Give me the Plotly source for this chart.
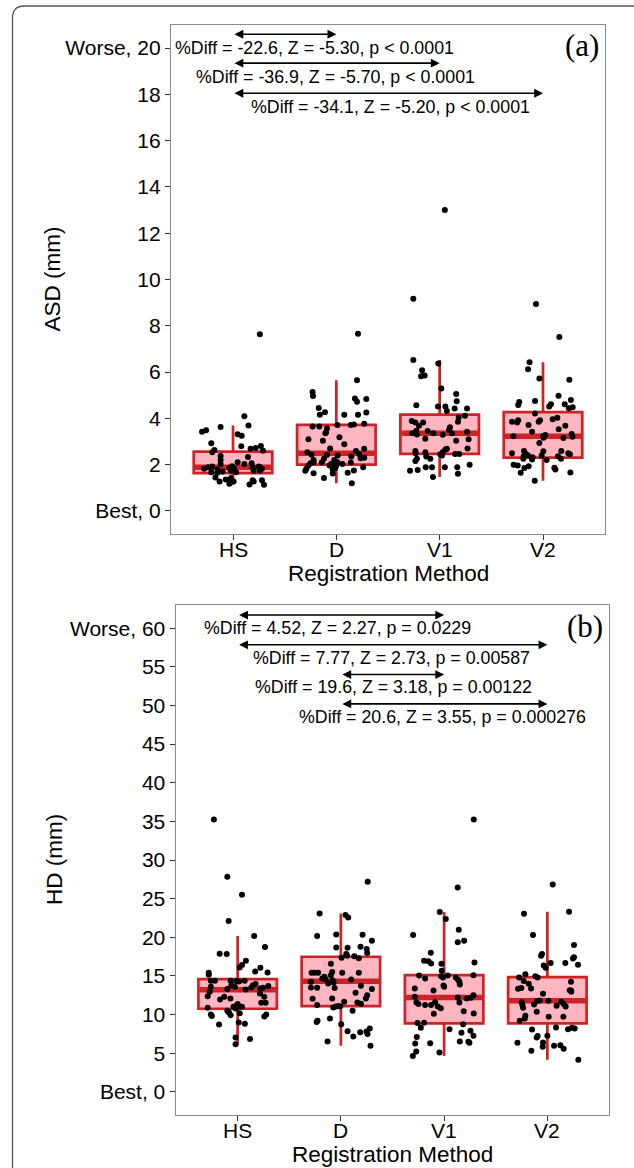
import plotly.graph_objects as go

# ---------------- data ----------------
categories = ["HS", "D", "V1", "V2"]

# Panel (a) ASD (mm)
asd_hs = [7.63, 4.09, 3.69, 3.62, 3.42, 3.48, 3.31, 3.25, 2.92, 2.79, 2.63, 2.53, 2.68, 2.72, 2.80, 2.60,
          2.37, 2.20, 2.33, 2.03, 2.10, 2.03, 2.06, 1.92, 1.82, 1.73, 1.90, 1.89, 1.73, 1.82, 1.89, 1.92,
          1.79, 1.65, 1.70, 1.85, 1.93, 1.73, 1.67, 1.85, 1.67, 1.44, 1.27, 1.36, 1.32, 1.42, 1.27, 1.17,
          1.14, 1.32, 1.27, 1.32, 1.13]
asd_hs_jit = [0.26, 0.11, 0.15, -0.12, -0.30, -0.26, 0.045, 0.084, -0.21, 0.08, -0.18, -0.20, 0.17, 0.22,
              0.27, 0.29, -0.12, -0.12, 0.145, -0.12, 0.045, 0.11, 0.18, 0.25, 0.28, 0.26, 0.26, 0.19, 0.20,
              -0.28, -0.24, -0.20, -0.15, -0.15, -0.10, -0.035, -0.01, -0.02, 0.03, 0.01, -0.21, -0.17,
              -0.13, -0.07, -0.035, -0.02, 0.006, -0.035, 0.16, 0.19, 0.20, 0.28, 0.30]
asd_d = [7.65, 5.64, 5.14, 4.96, 4.86, 4.72, 4.84, 4.45, 4.26, 4.15, 4.15, 4.15, 4.25, 3.76, 3.71, 3.73,
         3.71, 3.65, 3.65, 3.56, 3.39, 3.36, 3.10, 3.18, 3.03, 2.88, 2.70, 2.53, 2.42, 2.42, 2.39, 2.59,
         2.46, 2.27, 2.68, 2.30, 2.35, 2.20, 2.10, 2.25, 2.10, 2.20, 2.03, 1.96, 2.10, 1.96, 2.03, 2.09,
         1.96, 2.06, 1.85, 1.79, 1.73, 1.82, 1.63, 1.65, 1.75, 1.89, 1.62, 1.42, 1.19]
asd_d_jit = [0.21, 0.20, -0.23, -0.226, 0.18, 0.20, 0.29, -0.17, -0.11, -0.16, 0.077, 0.21, 0.29, 0.27,
             0.14, 0.17, 0.01, -0.23, -0.165, -0.09, -0.10, -0.106, -0.27, 0.03, -0.13, 0.077, -0.06,
             -0.28, -0.24, -0.09, 0.013, 0.19, 0.22, 0.235, 0.27, 0.27, 0.145, -0.22, -0.22, -0.12, -0.14,
             -0.02, -0.05, -0.065, 0.01, 0.0, 0.06, 0.14, -0.27, -0.25, -0.01, -0.035, -0.30, -0.29, -0.22,
             0.11, 0.17, 0.26, -0.035, -0.12, 0.15]
asd_v1 = [13.0, 9.17, 6.52, 6.37, 6.08, 5.82, 5.85, 5.29, 5.05, 4.74, 4.56, 4.51, 4.51, 4.32, 4.42, 4.42,
          4.11, 4.03, 3.85, 3.88, 3.82, 3.68, 3.46, 3.82, 3.36, 3.30, 3.45, 3.35, 3.12, 3.29, 3.61, 3.49,
          3.36, 3.42, 3.03, 3.09, 2.70, 2.59, 2.49, 2.53, 2.45, 2.53, 2.65, 2.68, 2.46, 2.46, 2.25, 2.15,
          2.35, 2.25, 2.39, 1.89, 1.99, 1.89, 1.89, 1.89, 1.60, 1.73, 1.77, 1.46]
asd_v1_jit = [0.05, -0.255, -0.255, -0.013, -0.17, -0.18, -0.145, 0.016, 0.16, 0.165, -0.226, -0.016, 0.055,
              0.07, 0.145, 0.265, 0.245, 0.184, 0.177, -0.27, -0.235, -0.20, -0.226, -0.16, -0.265, -0.22,
              -0.116, -0.06, -0.139, 0.03, 0.10, 0.09, 0.12, 0.265, 0.16, 0.28, 0.27, -0.235, -0.232,
              -0.139, 0.006, 0.03, 0.055, 0.07, 0.15, 0.19, -0.22, -0.235, -0.13, -0.09, 0.023, 0.05, 0.29,
              -0.135, -0.074, 0.17, 0.177, -0.287, -0.213, -0.065]
asd_v2 = [8.94, 7.51, 6.42, 6.12, 5.72, 5.67, 4.98, 4.79, 4.61, 4.43, 4.48, 4.75, 4.71, 4.58, 4.61, 4.51,
          4.21, 3.85, 3.92, 3.82, 3.71, 3.92, 3.85, 3.96, 4.02, 3.68, 3.53, 3.42, 3.22, 3.22, 3.28, 3.16,
          3.15, 3.32, 3.20, 2.93, 2.49, 2.59, 2.46, 2.36, 2.39, 2.25, 2.22, 2.32, 2.58, 2.39, 2.20, 2.59,
          2.36, 2.25, 2.49, 2.45, 1.99, 1.96, 1.65, 1.85, 1.93, 1.86, 1.79, 1.66, 1.30]
asd_v2_jit = [-0.068, 0.158, -0.13, -0.145, -0.035, 0.255, 0.15, 0.27, 0.21, 0.25, 0.287, -0.077, -0.23,
              -0.24, 0.077, 0.06, -0.077, -0.30, -0.24, -0.25, -0.14, -0.029, -0.042, 0.094, 0.139, 0.216,
              0.152, -0.106, -0.287, 0.0, 0.023, 0.006, 0.197, 0.277, 0.284, -0.035, -0.30, -0.184, -0.165,
              -0.187, -0.145, -0.19, -0.106, -0.10, 0.003, -0.013, 0.035, 0.177, 0.145, 0.174, 0.245, 0.26,
              -0.284, -0.245, -0.216, -0.18, -0.139, 0.11, 0.12, 0.265, -0.08]

asd_q1 = [1.63, 2.00, 2.46, 2.30]
asd_median = [1.89, 2.49, 3.35, 3.22]
asd_q3 = [2.56, 3.72, 4.16, 4.27]
asd_lower = [1.13, 1.19, 1.46, 1.30]
asd_upper = [3.69, 5.64, 6.52, 6.42]

# Panel (b) HD (mm)
hd_hs = [35.25, 27.83, 25.5, 22.09, 20.15, 18.73, 17.86, 17.82, 16.96, 16.4, 16.1, 15.58, 16.05, 15.45,
         15.4, 15.15, 14.37, 14.37, 14.37, 14.33, 14.28, 14.37, 13.8, 13.94, 13.6, 12.95, 13.29, 13.8, 13.6,
         13.25, 13.5, 13.38, 13.46, 13.68, 12.38, 12.3, 11.95, 12.08, 12.73, 12.3, 11.52, 11.52, 10.87, 11.0,
         11.22, 11.05, 10.79, 11.0, 11.35, 10.49, 10.27, 9.92, 10.0, 9.8, 10.18, 10.0, 9.75, 8.98, 8.8, 8.72,
         7.03, 6.82, 6.17]
hd_hs_jit = [-0.23, -0.10, 0.042, -0.087, 0.16, 0.265, -0.174, -0.106, 0.08, 0.042, 0.02, 0.17, 0.22, 0.29,
             -0.28, -0.28, -0.26, -0.22, -0.068, -0.013, 0.013, 0.068, 0.148, 0.174, -0.26, -0.27, -0.10,
             -0.06, -0.026, 0.077, 0.132, 0.22, 0.245, 0.297, -0.29, -0.13, -0.17, -0.07, 0.216, 0.258,
             0.229, 0.271, -0.29, -0.04, -0.006, 0.02, -0.02, 0.042, 0.0, -0.10, -0.084, -0.068, -0.26,
             -0.25, 0.02, 0.277, 0.258, 0.01, 0.07, -0.18, -0.02, 0.12, -0.02]
hd_d = [27.18, 23.08, 22.87, 22.57, 20.15, 20.37, 20.32, 19.55, 18.47, 17.95, 18.77, 18.68, 18.64, 17.82,
        17.6, 17.35, 17.56, 17.3, 16.57, 15.4, 15.4, 15.4, 15.49, 15.1, 15.4, 15.4, 14.67, 14.89, 14.58,
        14.41, 14.15, 14.54, 14.24, 14.02, 13.42, 13.46, 13.5, 13.72, 13.29, 12.82, 12.51, 12.08, 12.04,
        12.08, 11.65, 11.22, 10.92, 11.05, 11.09, 11.05, 11.56, 11.39, 10.49, 9.19, 9.02, 9.49, 8.76, 8.2,
        7.81, 7.85, 7.16, 7.72, 7.47, 6.52, 5.95]
hd_d_jit = [0.26, -0.206, 0.045, 0.071, -0.23, -0.045, 0.21, 0.30, 0.25, 0.255, 0.19, -0.045, 0.065, 0.052,
            0.061, 0.006, 0.13, 0.174, -0.097, -0.284, -0.255, -0.22, -0.084, -0.097, 0.013, 0.174, -0.18,
            -0.16, -0.148, -0.08, -0.071, 0.10, -0.29, -0.123, -0.06, -0.23, -0.29, 0.194, 0.30, 0.142,
            0.255, 0.242, -0.274, -0.084, 0.032, -0.23, -0.074, -0.048, -0.023, -0.006, 0.16, 0.194, 0.113,
            -0.226, -0.235, -0.106, 0.003, 0.28, 0.248, 0.065, 0.12, 0.187, 0.258, -0.129, 0.287]
hd_v1 = [35.25, 26.45, 23.26, 22.35, 20.28, 20.97, 19.37, 19.55, 17.99, 16.96, 16.91, 16.61, 16.57, 16.74,
         15.66, 14.97, 14.8, 15.06, 14.67, 15.06, 14.8, 14.5, 13.9, 14.24, 15.1, 13.38, 12.3, 13.12, 13.59,
         13.76, 11.56, 11.35, 11.22, 11.22, 11.6, 11.05, 10.83, 10.1, 12.21, 11.56, 12.08, 12.17, 12.51,
         10.44, 10.14, 8.89, 8.93, 8.28, 8.11, 8.76, 7.64, 7.9, 7.25, 7.08, 6.26, 6.3, 6.52, 6.47, 6.34,
         5.22, 5.09, 4.62]
hd_v1_jit = [0.287, 0.132, -0.042, 0.016, -0.30, 0.142, 0.132, 0.194, -0.129, -0.194, -0.152, -0.126,
             -0.026, 0.294, -0.023, -0.029, -0.01, -0.242, -0.184, 0.035, 0.113, 0.135, 0.152, 0.148, 0.284,
             -0.284, -0.284, -0.103, 0.0, -0.006, -0.268, -0.248, -0.184, -0.126, -0.087, -0.061, -0.032,
             -0.10, 0.132, 0.148, 0.219, 0.261, 0.284, 0.19, 0.287, -0.258, -0.194, -0.226, 0.052, 0.184,
             0.168, 0.255, 0.284, -0.265, -0.28, -0.135, 0.152, 0.235, 0.245, -0.27, -0.045, -0.303]
hd_v2 = [26.84, 23.04, 23.3, 20.28, 18.99, 17.82, 17.6, 17.26, 17.43, 16.66, 16.44, 16.35, 16.05, 16.66,
         15.23, 14.8, 14.33, 13.98, 13.38, 13.33, 13.42, 14.97, 14.8, 14.24, 13.16, 12.95, 13.12, 12.69,
         11.6, 11.22, 10.87, 11.3, 11.74, 11.82, 11.78, 11.65, 11.35, 11.05, 11.13, 10.36, 9.84, 9.49,
         9.19, 9.71, 9.71, 8.07, 7.03, 7.21, 7.25, 8.33, 8.11, 8.28, 8.2, 6.34, 6.39, 5.83, 5.95, 6.04,
         5.57, 5.31, 4.14]
hd_v2_jit = [0.052, -0.226, 0.21, -0.139, 0.258, -0.052, -0.061, 0.248, 0.258, 0.174, 0.297, -0.035, -0.016,
             0.032, -0.213, -0.274, -0.229, -0.18, -0.158, -0.284, -0.252, -0.116, -0.094, 0.229, 0.216,
             0.232, 0.229, -0.042, -0.248, -0.242, -0.235, -0.129, -0.10, -0.074, 0.01, 0.135, 0.158, 0.177,
             0.09, -0.103, -0.213, -0.219, -0.268, 0.013, 0.155, -0.148, -0.103, -0.094, 0.0, 0.084, 0.20,
             0.239, 0.265, -0.29, -0.042, -0.045, 0.065, 0.126, 0.158, -0.155, 0.30]

hd_q1 = [10.75, 11.10, 8.85, 8.85]
hd_median = [13.20, 14.30, 12.20, 11.80]
hd_q3 = [14.59, 17.48, 15.10, 14.85]
hd_lower = [6.17, 5.95, 4.62, 4.14]
hd_upper = [20.15, 23.08, 23.26, 23.30]

# pairwise comparisons: (from index, to index) and labels
asd_pairs = [(0, 1), (0, 2), (0, 3)]
asd_pair_labels = ["%Diff = -22.6, Z = -5.30, p < 0.0001",
                   "%Diff = -36.9, Z = -5.70, p < 0.0001",
                   "%Diff = -34.1, Z = -5.20, p < 0.0001"]
asd_arrow_y = [20.6, 19.35, 18.05]
asd_label_y = [20.0, 18.75, 17.45]
asd_label_x = [0.79, 0.99, 1.52]

hd_pairs = [(0, 2), (0, 3), (1, 2), (1, 3)]
hd_pair_labels = ["%Diff = 4.52, Z = 2.27, p = 0.0229",
                  "%Diff = 7.77, Z = 2.73, p = 0.00587",
                  "%Diff = 19.6, Z = 3.18, p = 0.00122",
                  "%Diff = 20.6, Z = 3.55, p = 0.000276"]
hd_arrow_y = [61.7, 57.85, 54.0, 50.2]
hd_label_y = [60.0, 56.15, 52.35, 48.55]
hd_label_x = [0.97, 1.49, 1.51, 1.98]

asd_ticks = [0, 2, 4, 6, 8, 10, 12, 14, 16, 18, 20]
asd_ticktext = ["Best, 0", "2", "4", "6", "8", "10", "12", "14", "16", "18", "Worse, 20"]
hd_ticks = [0, 5, 10, 15, 20, 25, 30, 35, 40, 45, 50, 55, 60]
hd_ticktext = ["Best, 0", "5", "10", "15", "20", "25", "30", "35", "40", "45", "50", "55", "Worse, 60"]

# ---------------- style ----------------
W, H = 634, 1168
RED = "#CD2327"
PINK = "#FFB6C1"
FONT = "Liberation Sans"
BOX_W = 0.76
TICK_SIZE = 21


def px_x(p):
    return p / W


def px_y(p):
    return 1 - p / H


fig = go.Figure()


def add_panel(xa, ya, groups, jits, q1, med, q3, lo, up):
    fig.add_trace(go.Box(
        x=list(range(len(categories))), q1=q1, median=med, q3=q3,
        lowerfence=lo, upperfence=up, width=BOX_W, whiskerwidth=0,
        fillcolor=PINK, line=dict(color=RED, width=2.7), boxpoints=False,
        xaxis=xa, yaxis=ya, showlegend=False, hoverinfo="skip"))
    mx, my = [], []
    for i, m in enumerate(med):
        mx += [i - BOX_W / 2 + 0.01, i + BOX_W / 2 - 0.01, None]
        my += [m, m, None]
    fig.add_trace(go.Scatter(x=mx, y=my, mode="lines", line=dict(color=RED, width=5.5),
                             xaxis=xa, yaxis=ya, showlegend=False, hoverinfo="skip"))
    for i, (vals, jit) in enumerate(zip(groups, jits)):
        fig.add_trace(go.Scatter(
            x=[i + j for j in jit], y=vals, mode="markers",
            marker=dict(color="black", size=6, line=dict(width=0)),
            xaxis=xa, yaxis=ya, showlegend=False, hoverinfo="skip"))


add_panel("x", "y", [asd_hs, asd_d, asd_v1, asd_v2],
          [asd_hs_jit, asd_d_jit, asd_v1_jit, asd_v2_jit],
          asd_q1, asd_median, asd_q3, asd_lower, asd_upper)
add_panel("x2", "y2", [hd_hs, hd_d, hd_v1, hd_v2],
          [hd_hs_jit, hd_d_jit, hd_v1_jit, hd_v2_jit],
          hd_q1, hd_median, hd_q3, hd_lower, hd_upper)

axis_common = dict(showline=True, mirror=True, linecolor="#8a8a8a", linewidth=1.4,
                   ticks="outside", ticklen=5, tickwidth=1.4, tickcolor="#333333",
                   showgrid=False, zeroline=False,
                   tickfont=dict(family=FONT, size=TICK_SIZE, color="black"))

PA_BOTTOM, PB_BOTTOM = 534, 1115
fig.update_layout(
    width=W, height=H, margin=dict(l=0, r=0, t=0, b=0),
    paper_bgcolor="white", plot_bgcolor="white",
    xaxis=dict(domain=[px_x(171), px_x(605)], range=[-0.6, 3.6], anchor="y",
               tickvals=list(range(4)), showticklabels=False, **axis_common),
    yaxis=dict(domain=[px_y(PA_BOTTOM), px_y(25)], range=[-1, 21], anchor="x",
               tickvals=asd_ticks, ticktext=asd_ticktext, **axis_common),
    xaxis2=dict(domain=[px_x(175.7), px_x(609.3)], range=[-0.6, 3.6], anchor="y2",
                tickvals=list(range(4)), showticklabels=False, **axis_common),
    yaxis2=dict(domain=[px_y(PB_BOTTOM), px_y(605)], range=[-3, 63], anchor="x2",
                tickvals=hd_ticks, ticktext=hd_ticktext, **axis_common),
)

annotations = []


def add_pairs(xr, yr, pairs, labels, ay_list, ly_list, lx_list):
    for (a, b), lab, ay, ly, lx in zip(pairs, labels, ay_list, ly_list, lx_list):
        annotations.append(dict(
            x=b, y=ay, ax=a, ay=ay, xref=xr, yref=yr, axref=xr, ayref=yr,
            text="", showarrow=True, arrowside="end+start", arrowhead=2,
            startarrowhead=2, arrowsize=1.1, startarrowsize=1.1, arrowwidth=1.6,
            arrowcolor="black", standoff=0, startstandoff=0))
        annotations.append(dict(
            x=lx, y=ly, xref=xr, yref=yr, text=lab, showarrow=False,
            xanchor="center", yanchor="middle",
            font=dict(family=FONT, size=17.8, color="black")))


add_pairs("x", "y", asd_pairs, asd_pair_labels, asd_arrow_y, asd_label_y, asd_label_x)
add_pairs("x2", "y2", hd_pairs, hd_pair_labels, hd_arrow_y, hd_label_y, hd_label_x)

# category tick labels
for xr, bottom in (("x", PA_BOTTOM), ("x2", PB_BOTTOM)):
    for i, c in enumerate(categories):
        annotations.append(dict(x=i, y=px_y(bottom + 15), xref=xr, yref="paper", text=c,
                                showarrow=False, xanchor="center", yanchor="middle",
                                font=dict(family=FONT, size=TICK_SIZE, color="black")))

title_font = dict(family=FONT, size=22.5, color="black")
annotations += [
    dict(x=px_x(52), y=px_y(279.5), xref="paper", yref="paper", text="ASD (mm)", textangle=-90,
         showarrow=False, xanchor="center", yanchor="middle", font=title_font),
    dict(x=px_x(55), y=px_y(860), xref="paper", yref="paper", text="HD (mm)", textangle=-90,
         showarrow=False, xanchor="center", yanchor="middle", font=title_font),
    dict(x=px_x(388), y=px_y(PA_BOTTOM + 39), xref="paper", yref="paper", text="Registration Method",
         showarrow=False, xanchor="center", yanchor="middle", font=title_font),
    dict(x=px_x(392.5), y=px_y(1168), xref="paper", yref="paper", text="Registration Method",
         showarrow=False, xanchor="center", yanchor="bottom", borderpad=0, font=title_font),
    dict(x=px_x(601), y=px_y(45), xref="paper", yref="paper", text="(a)",
         showarrow=False, xanchor="right", yanchor="middle",
         font=dict(family="Liberation Serif", size=31, color="black")),
    dict(x=px_x(605), y=px_y(626), xref="paper", yref="paper", text="(b)",
         showarrow=False, xanchor="right", yanchor="middle",
         font=dict(family="Liberation Serif", size=31, color="black")),
]
fig.update_layout(annotations=annotations)

# outer rounded frame
x0, y0, r = px_x(12.5), px_y(6), 12
path = (f"M {x0},{px_y(1180)} L {x0},{px_y(6 + r)} "
        f"Q {x0},{y0} {px_x(12.5 + r)},{y0} L {px_x(650)},{y0}")
fig.update_layout(shapes=[dict(type="path", path=path, xref="paper", yref="paper",
                               line=dict(color="#555555", width=1.3))])

fig.write_html("out.html", config={"displayModeBar": False},
               post_script="document.body.style.margin='0px';document.body.style.padding='0px';")
